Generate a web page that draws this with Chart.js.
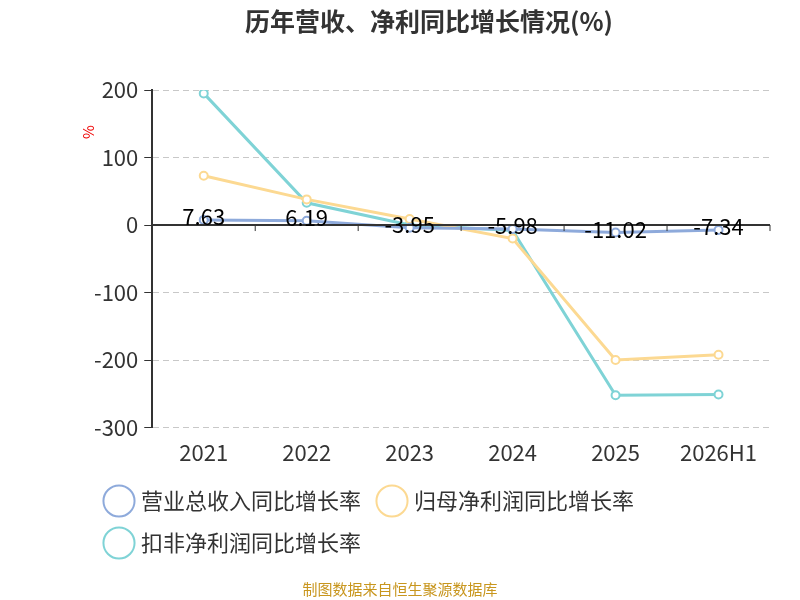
<!DOCTYPE html>
<html><head><meta charset="utf-8">
<script src="https://cdn.jsdelivr.net/npm/chart.js@4"></script>
<style>body{margin:0;background:#fff}#wrap{width:800px;height:600px;position:relative}
#src{position:absolute;top:578px;width:800px;text-align:center;font:15px "Noto Sans CJK SC";color:#c8961e}</style>
</head><body><div id="wrap"><canvas id="c" width="800" height="600"></canvas><div id="src">制图数据来自恒生聚源数据库</div></div>
<script>
const categories = ["2021", "2022", "2023", "2024", "2025", "2026H1"];
const revenueGrowth = [7.63, 6.19, -3.95, -5.98, -11.02, -7.34];
const netProfitGrowth = [73, 38, 9, -20, -200, -192];
const deductedProfitGrowth = [195, 33, 0, -8, -252, -251];
const yTicks = [200, 100, 0, -100, -200, -300];
const font = "'Noto Sans CJK SC','Noto Sans',sans-serif";

// value labels for the revenue series, plus the zero axis with its ticks
const extras = {
  id: "extras",
  afterDatasetsDraw(chart) {
    const { ctx, chartArea, scales } = chart;
    const y0 = scales.y.getPixelForValue(0);
    ctx.save();
    ctx.strokeStyle = "#333"; ctx.lineWidth = 2;
    ctx.beginPath(); ctx.moveTo(chartArea.left, y0); ctx.lineTo(chartArea.right, y0); ctx.stroke();
    ctx.lineWidth = 1;
    const step = (chartArea.right - chartArea.left) / categories.length;
    for (let i = 1; i <= categories.length; i++) {
      const x = chartArea.left + step * i;
      ctx.beginPath(); ctx.moveTo(x, y0); ctx.lineTo(x, y0 + 6); ctx.stroke();
    }
    ctx.fillStyle = "#000"; ctx.font = "22px " + font;
    ctx.textAlign = "center"; ctx.textBaseline = "middle";
    chart.getDatasetMeta(0).data.forEach((p, i) => {
      ctx.fillText(revenueGrowth[i].toFixed(2), p.x, p.y - 3);
    });
    ctx.fillStyle = "#e00"; ctx.font = "15px " + font;
    ctx.translate(88, 132); ctx.rotate(-Math.PI / 2); ctx.fillText("%", 0, 0);
    ctx.restore();
  }
};

const mk = (label, data, color) => ({
  label, data, borderColor: color, backgroundColor: "#fff",
  borderWidth: 3, pointRadius: 4, pointBorderWidth: 2, pointBorderColor: color,
  pointBackgroundColor: "#fff", pointStyle: "circle", tension: 0
});

new Chart(document.getElementById("c"), {
  type: "line",
  data: {
    labels: categories,
    datasets: [
      mk("营业总收入同比增长率", revenueGrowth, "#8eaadb"),
      mk("归母净利润同比增长率", netProfitGrowth, "#fcd992"),
      mk("扣非净利润同比增长率", deductedProfitGrowth, "#7fd3d6")
    ]
  },
  options: {
    responsive: false, animation: false,
    layout: { padding: { left: 88, right: 30, top: 0, bottom: 36 } },
    plugins: {
      title: { display: true, text: "历年营收、净利同比增长情况(%)", color: "#333",
        font: { family: font, size: 25, weight: "bold" }, padding: { top: 6, bottom: 54 } },
      legend: { position: "bottom", align: "start",
        labels: { usePointStyle: true, pointStyle: "circle", boxWidth: 22, boxHeight: 22,
          padding: 20, color: "#333", font: { family: font, size: 22 },
          generateLabels(chart) {
            return chart.data.datasets.map((d, i) => ({ text: d.label, fillStyle: "#fff",
              strokeStyle: d.borderColor, lineWidth: 2, pointStyle: "circle", datasetIndex: i, fontColor: "#333" }));
          } } },
      tooltip: { enabled: false }
    },
    scales: {
      x: { offset: true, grid: { display: false }, border: { display: false },
        ticks: { color: "#333", font: { family: font, size: 22 }, padding: 4 } },
      y: { min: -300, max: 200, afterBuildTicks(s) { s.ticks = yTicks.map(v => ({ value: v })); },
        grid: { color: "#c8c8c8", tickLength: 8, tickColor: "#333" },
        border: { display: true, color: "#333", width: 2, dash: [6, 4] },
        ticks: { color: "#333", font: { family: font, size: 22 }, padding: 6 } }
    }
  },
  plugins: [extras]
});
</script></body></html>
